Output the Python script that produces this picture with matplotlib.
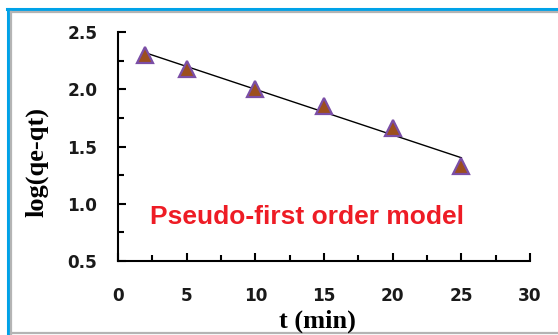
import numpy as np
import matplotlib
matplotlib.use("Agg")
import matplotlib.pyplot as plt
from matplotlib.lines import Line2D
from matplotlib.ticker import MultipleLocator

# data
t_min = [2, 5, 10, 15, 20, 25]
log_qe_qt = [2.30, 2.18, 2.00, 1.85, 1.66, 1.33]
x_ticks = [0, 5, 10, 15, 20, 25, 30]
y_ticks = [0.5, 1.0, 1.5, 2.0, 2.5]
x_label = "t (min)"
y_label = "log(qe-qt)"
annotation = "Pseudo-first order model"

W, H = 558, 335
fig = plt.figure(figsize=(W / 100, H / 100), dpi=100)
fig.patch.set_facecolor("white")

ax = fig.add_axes([118 / W, 1 - 261 / H, (530 - 118) / W, (261 - 32) / H])
ax.set_xlim(0, 30)
ax.set_ylim(0.5, 2.5)

# trend line (least-squares fit)
slope, intercept = np.polyfit(t_min, log_qe_qt, 1)
xs = np.array([min(t_min), max(t_min)])
ax.plot(xs, slope * xs + intercept, color="black", lw=1.0, zorder=2)

ax.plot(t_min, log_qe_qt, linestyle="none", marker="^", markersize=11,
        markerfacecolor="#9C4F1E", markeredgecolor="#7B4EA6",
        markeredgewidth=1.6, zorder=3)

for s in ["top", "right"]:
    ax.spines[s].set_visible(False)
for s in ["left", "bottom"]:
    ax.spines[s].set_linewidth(1.5)

ax.set_xticks(x_ticks)
ax.set_yticks(y_ticks)
ax.set_xticklabels([str(v) for v in x_ticks])
ax.set_yticklabels([f"{v:.1f}" for v in y_ticks])
ax.xaxis.set_minor_locator(MultipleLocator(2.5))
ax.yaxis.set_minor_locator(MultipleLocator(0.25))
ax.tick_params(which="both", direction="in", width=1.5, colors="black")
ax.tick_params(which="major", length=5.5)
ax.tick_params(which="minor", length=4)
ax.tick_params(axis="x", which="major", pad=19)
ax.tick_params(axis="y", which="major", pad=15)
for lab in ax.get_xticklabels() + ax.get_yticklabels():
    lab.set_fontfamily("DejaVu Sans")
    lab.set_fontweight("bold")
    lab.set_fontsize(12.2)
    lab.set_color("#1a1a1a")

fig.text(317 / W, 1 - 321 / H, x_label, ha="center", va="center",
         family="Liberation Serif", weight="bold", fontsize=19)
fig.text(37 / W, 1 - 162 / H, y_label, ha="center", va="center", rotation=90,
         family="Liberation Serif", weight="bold", fontsize=19)

fig.text(150 / W, 1 - 217 / H, annotation, ha="left", va="center",
         family="Liberation Sans", weight="bold", fontsize=19, color="#EE1C25")

# frame lines
fig.add_artist(Line2D([7 / W, 1], [1 - 9 / H, 1 - 9 / H], transform=fig.transFigure,
                      color="#00A2E8", lw=2.2))
fig.add_artist(Line2D([8 / W, 8 / W], [1 - 9 / H, 0], transform=fig.transFigure,
                      color="#00A2E8", lw=2.2))
fig.add_artist(Line2D([11 / W, 1], [1 - 12 / H, 1 - 12 / H], transform=fig.transFigure,
                      color="#B4B4B4", lw=1.6))
fig.add_artist(Line2D([11 / W, 11 / W], [1 - 12 / H, 0], transform=fig.transFigure,
                      color="#B4B4B4", lw=1.6))
fig.add_artist(Line2D([11 / W, 1], [1 - 333 / H, 1 - 333 / H], transform=fig.transFigure,
                      color="#B4B4B4", lw=1.6))

fig.savefig("out.png", dpi=100)
